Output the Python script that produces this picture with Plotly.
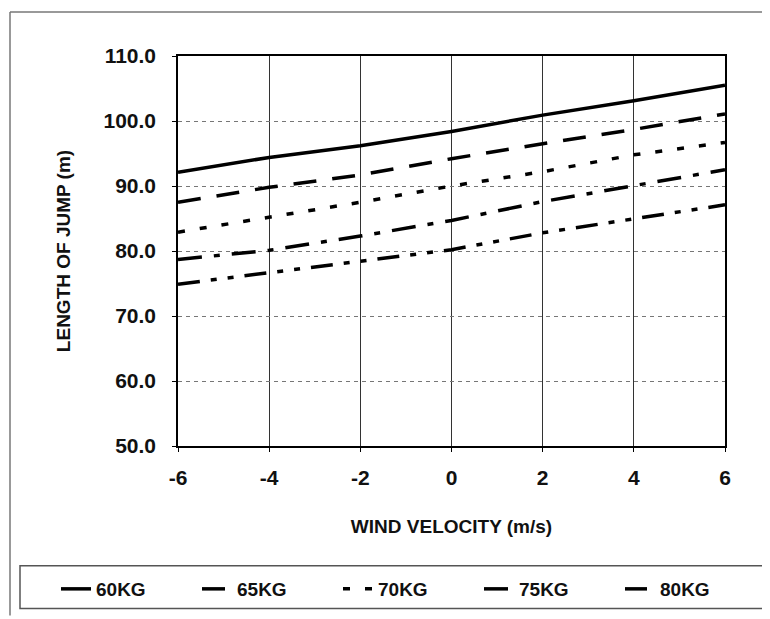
import plotly.graph_objects as go

wind = [-6, -4, -2, 0, 2, 4, 6]
kg60 = [92.1, 94.4, 96.2, 98.4, 100.9, 103.1, 105.5]
kg65 = [87.5, 89.8, 91.7, 94.2, 96.5, 98.7, 101.1]
kg70 = [82.9, 85.2, 87.5, 90.0, 92.2, 94.8, 96.7]
kg75 = [78.7, 80.1, 82.3, 84.7, 87.6, 90.0, 92.5]
kg80 = [74.9, 76.7, 78.4, 80.2, 82.8, 85.0, 87.1]
names = ["60KG", "65KG", "70KG", "75KG", "80KG"]
series = [kg60, kg65, kg70, kg75, kg80]
dashes = ["solid", "23px,16px", "7px,15px", "24px,12px,6px,12px", "22px,11px,6px,11px,6px,11px"]

OFF = 8  # page body margin
W, H = 770 - OFF, 619 - OFF
PL, PR, PT, PB = 178, 725, 56, 447  # target plot-area edges in screen pixels
L, T = PL - OFF, PT - OFF
R = W - (PR - OFF)
B = H - (PB - OFF)
pw, ph = W - L - R, H - T - B

fig = go.Figure()
for n, s, d in zip(names, series, dashes):
    fig.add_trace(go.Scatter(x=wind, y=s, name=n, mode="lines",
                             line=dict(color="black", width=3.5, dash=d)))

def px(x): return (x - OFF - L) / pw
def py(y): return (H - B - (y - OFF)) / ph

shapes = [
    dict(type="line", xref="paper", yref="paper", x0=px(10), x1=px(10), y0=py(12), y1=py(617),
         line=dict(color="#777", width=1.5)),
    dict(type="line", xref="paper", yref="paper", x0=px(10), x1=px(770), y0=py(12), y1=py(12),
         line=dict(color="#777", width=1.5)),
    dict(type="rect", xref="paper", yref="paper", x0=px(20), x1=px(769), y0=py(567), y1=py(610),
         line=dict(color="#555", width=1.5)),
]

fig.update_layout(
    width=W, height=H,
    margin=dict(l=L, r=R, t=T, b=B),
    paper_bgcolor="white", plot_bgcolor="white",
    font=dict(family="Liberation Sans, Arial", color="#111"),
    showlegend=True,
    legend=dict(orientation="h", x=px(56), xanchor="left", y=py(589), yanchor="middle",
                font=dict(size=19, weight="bold"), bgcolor="rgba(0,0,0,0)",
                entrywidth=96, entrywidthmode="pixels", itemwidth=30),
    shapes=shapes,
    xaxis=dict(range=[-6, 6], tickvals=wind, ticktext=[str(v) for v in wind],
               tickfont=dict(size=21, weight="bold"),
               showgrid=True, gridcolor="#333", gridwidth=1.2,
               showline=True, linecolor="black", linewidth=1.5, mirror=True,
               ticks="outside", ticklen=4, tickcolor="black", zeroline=False,
               ticklabelstandoff=8,
               title=dict(text="WIND VELOCITY (m/s)", font=dict(size=19, weight="bold"), standoff=32)),
    yaxis=dict(range=[50, 110], tickvals=[50, 60, 70, 80, 90, 100, 110],
               tickformat=".1f", tickfont=dict(size=21, weight="bold"),
               showgrid=True, gridcolor="#777", gridwidth=1, griddash="4px,4px",
               showline=True, linecolor="black", linewidth=1.5, mirror=True,
               ticks="outside", ticklen=4, tickcolor="black", zeroline=False,
               ticklabelstandoff=12,
               title=dict(text="LENGTH OF JUMP (m)", font=dict(size=19, weight="bold"), standoff=28)),
)

fig.write_html("out.html")
